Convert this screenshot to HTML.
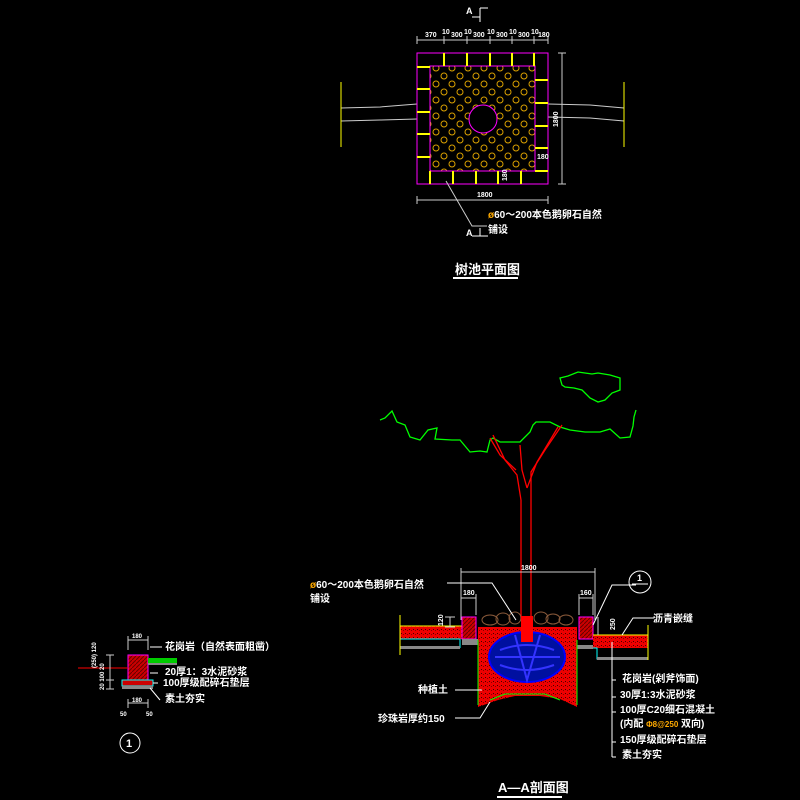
<!DOCTYPE html>
<html><head><meta charset="utf-8"><style>
html,body{margin:0;padding:0;background:#000;}
svg{display:block}
text{font-family:"Liberation Sans","Noto Sans CJK SC",sans-serif;fill:#fff;font-weight:bold}
</style></head><body>
<svg width="800" height="800" viewBox="0 0 800 800" xmlns="http://www.w3.org/2000/svg">
<defs>
<pattern id="cob" width="16" height="16" patternUnits="userSpaceOnUse">
<circle cx="4" cy="4" r="3" fill="none" stroke="#d9a000" stroke-width="1"/>
<circle cx="12" cy="12" r="3" fill="none" stroke="#d9a000" stroke-width="1"/>
</pattern>
<pattern id="rd" width="4" height="4" patternUnits="userSpaceOnUse">
<rect width="4" height="4" fill="#e00"/><rect x="1" y="1" width="1" height="1" fill="#400"/><rect x="3" y="2" width="1" height="1" fill="#800"/>
</pattern>
<pattern id="hx" width="4" height="4" patternUnits="userSpaceOnUse">
<rect width="4" height="4" fill="#c00"/><path d="M0 4L4 0" stroke="#600" stroke-width="1"/>
</pattern>
</defs>

<!-- ===== PLAN ===== -->
<g stroke-width="1" fill="none">
<path d="M480 8V22M480 8H488M472 17H480" stroke="#fff"/>
<text x="466" y="14" font-size="9">A</text>
<path d="M472 236H488M480 228V236" stroke="#fff"/>
<text x="466" y="236" font-size="9">A</text>
<!-- roads -->
<path d="M341 108L380 107L417 104M341 121L380 120L417 119" stroke="#ccc"/>
<path d="M548 104L590 105L624 108M548 117L590 118L624 121" stroke="#ccc"/>
<path d="M341 82V147M624 82V147" stroke="#ff0"/>
<rect x="417" y="53" width="131" height="131" stroke="#f0f"/>
<rect x="430" y="66" width="105" height="105" fill="url(#cob)" stroke="#f0f"/>
<circle cx="483" cy="119" r="14" fill="#000" stroke="#f0f"/>
<g stroke="#ff0" stroke-width="2">
<path d="M444 53V66M467 53V66M490 53V66M512 53V66M534 53V66"/>
<path d="M417 67H430M417 89H430M417 112H430M417 134H430M417 157H430"/>
<path d="M535 80H548M535 103H548M535 126H548M535 148H548M535 171H548"/>
<path d="M430 171V184M453 171V184M476 171V184M498 171V184M521 171V184"/>
</g>
<path d="M417 40H548M417 36V44M444 36V44M467 36V44M490 36V44M512 36V44M534 36V44M548 36V44" stroke="#ccc"/>
<path d="M562 53V184M558 53H566M558 184H566" stroke="#ccc"/>
<path d="M417 200H548M417 196V204M548 196V204" stroke="#ccc"/>
<path d="M446 181L472 226H487" stroke="#ccc"/>
</g>
<g font-size="7" font-weight="normal">
<text x="425" y="37">370</text><text x="442" y="34">10</text><text x="451" y="37">300</text><text x="464" y="34">10</text><text x="473" y="37">300</text><text x="487" y="34">10</text><text x="496" y="37">300</text><text x="509" y="34">10</text><text x="518" y="37">300</text><text x="531" y="34">10</text><text x="538" y="37">180</text>
<text x="477" y="197">1800</text>
<text x="537" y="159">180</text>
<text x="0" y="0" transform="translate(558 127) rotate(-90)">1800</text>
<text x="0" y="0" transform="translate(507 181) rotate(-90)">180</text>
</g>
<text x="488" y="218" font-size="10"><tspan fill="#fa0">ø</tspan>60～200本色鹅卵石自然</text>
<text x="488" y="233" font-size="10">铺设</text>
<text x="455" y="274" font-size="13">树池平面图</text>
<path d="M453 278H518" stroke="#fff" stroke-width="2"/>

<!-- ===== TREE ===== -->
<g fill="none" stroke="#0f0" stroke-width="1.3">
<path d="M380 420L385 418L392 411L397 422L405 425L410 437L420 440L428 430L437 428L435 439L452 440L460 440L470 452L480 451L487 452L490 440L493 438L500 442L520 442L530 432L533 425L536 422L550 422L560 427L570 430L585 432L600 432L610 429L620 438L630 437L633 426L634 417L636 410"/>
<path d="M560 378L568 376L578 372L592 374L598 373L610 375L620 378L620 390L612 393L605 400L598 402L590 398L582 390L574 388L565 387L562 385Z"/>
</g>
<g fill="none" stroke="#f00" stroke-width="1.3">
<path d="M521 620V500L517 475L505 460L493 435"/>
<path d="M531 620V472L545 450L562 425"/>
<path d="M527 488L522 470L520 445M527 488L537 462L558 427"/>
<path d="M516 470L500 455L490 438"/>
</g>

<!-- ===== SECTION ===== -->
<g>
<!-- left pavement -->
<rect x="400" y="626" width="62" height="13" fill="url(#rd)"/>
<path d="M400 626H462" stroke="#ff0"/>
<path d="M400 639H460V648" stroke="#0ff" fill="none"/>
<rect x="400" y="646" width="60" height="3" fill="#888"/>
<path d="M400 615V655" stroke="#ff0"/>
<!-- curbs -->
<rect x="462" y="617" width="14" height="22" fill="url(#hx)" stroke="#f0f"/>
<rect x="579" y="617" width="14" height="22" fill="url(#hx)" stroke="#f0f"/>
<rect x="462" y="639" width="16" height="6" fill="#888"/>
<rect x="577" y="645" width="16" height="4" fill="#888"/>
<!-- pit -->
<path d="M478 627H577V707L560 699L540 696H515L498 700L478 707Z" fill="url(#rd)"/>
<path d="M478 640V705M577 640V705" stroke="#0f0"/>
<path d="M490 700L505 694H545L560 700" stroke="#0f0" fill="none"/>
<!-- stones -->
<g fill="none" stroke="#8a5a3a">
<ellipse cx="490" cy="620" rx="8" ry="5"/><ellipse cx="503" cy="619" rx="7" ry="6"/><ellipse cx="515" cy="618" rx="6" ry="6"/>
<ellipse cx="541" cy="618" rx="7" ry="6"/><ellipse cx="553" cy="619" rx="7" ry="5"/><ellipse cx="566" cy="620" rx="7" ry="5"/>
</g>
<!-- rootball -->
<ellipse cx="527" cy="657" rx="38" ry="25" fill="#0010a0" stroke="#00f" stroke-width="2"/>
<path d="M500 650Q527 640 554 650M500 665Q527 675 554 665M515 635L527 680L540 635M495 657H560" stroke="#33f" fill="none" stroke-width="2"/>
<rect x="521" y="616" width="12" height="26" fill="#f00"/>
<!-- right pavement -->
<rect x="593" y="635" width="55" height="13" fill="url(#rd)"/>
<path d="M593 648H597V659H648" stroke="#0ff" fill="none"/>
<rect x="597" y="657" width="51" height="3" fill="#888"/>
<path d="M648 625V660" stroke="#ff0"/>
<path d="M593 635H648" stroke="#ff0"/>
<!-- dims -->
<path d="M461 572H595M461 568V620M595 568V620M461 598H476M461 594V615M476 594V615M579 598H593M579 594V615M593 594V615M450 617V627M445 617H455M445 627H455M598 617V635" stroke="#ccc" fill="none"/>
<text x="521" y="570" font-size="7" font-weight="normal">1800</text>
<text x="463" y="595" font-size="7" font-weight="normal">180</text>
<text x="580" y="595" font-size="7" font-weight="normal">160</text>
<text transform="translate(443 626) rotate(-90)" font-size="7" font-weight="normal">120</text>
<text transform="translate(615 630) rotate(-90)" font-size="7" font-weight="normal">250</text>
<!-- leaders -->
<path d="M447 583H492L516 620M636 585H612L593 625M654 618H633L622 635M612 642V757M612 680H616M612 697H616M612 712H616M612 742H616M612 757H616M455 690H482M455 718H480L490 702" stroke="#fff" fill="none"/>
<circle cx="640" cy="582" r="11" fill="none" stroke="#fff"/>
<path d="M632 584H648" stroke="#fff"/>
<text x="637" y="581" font-size="9">1</text>
</g>
<g font-size="10">
<text x="310" y="588"><tspan fill="#fa0">ø</tspan>60～200本色鹅卵石自然</text>
<text x="310" y="602">铺设</text>
<text x="653" y="622">沥青嵌缝</text>
<text x="418" y="693">种植土</text>
<text x="378" y="722">珍珠岩厚约150</text>
<text x="622" y="682">花岗岩(剁斧饰面)</text>
<text x="620" y="698">30厚1:3水泥砂浆</text>
<text x="620" y="713">100厚C20细石混凝土</text>
<text x="620" y="727">(内配 <tspan fill="#fa0" font-size="8">Φ8@250</tspan>   双向)</text>
<text x="620" y="743">150厚级配碎石垫层</text>
<text x="622" y="758">素土夯实</text>
</g>
<text x="498" y="792" font-size="13">A—A剖面图</text>
<path d="M497 797H562" stroke="#fff" stroke-width="2"/>

<!-- ===== DETAIL 1 ===== -->
<g>
<rect x="128" y="655" width="20" height="25" fill="url(#hx)" stroke="#f0f"/>
<rect x="148" y="658" width="29" height="5" fill="#0c0"/>
<rect x="148" y="663" width="29" height="2" fill="#888"/>
<path d="M78 668H128" stroke="#f00"/>
<rect x="122" y="680" width="31" height="6" fill="#c00" stroke="#0ff"/>
<rect x="122" y="686" width="31" height="3" fill="#888"/>
<path d="M128 640H148M128 636V650M148 636V650M128 703H148M128 699V708M148 699V708M110 655V689M106 655H114M106 680H114M106 689H114" stroke="#ccc" fill="none"/>
<path d="M162 647H150M158 673H150M158 683H153M160 700L150 688" stroke="#fff"/>
<g font-size="6" font-weight="normal">
<text x="132" y="638">180</text><text x="132" y="702">180</text><text x="120" y="716">50</text><text x="146" y="716">50</text>
<text transform="translate(96 668) rotate(-90)">(250) 120</text>
<text transform="translate(104 690) rotate(-90)">20 100 20</text>
</g>
<g font-size="10">
<text x="165" y="650">花岗岩（自然表面粗凿）</text>
<text x="165" y="675">20厚1：3水泥砂浆</text>
<text x="163" y="686">100厚级配碎石垫层</text>
<text x="165" y="702">素土夯实</text>
</g>
<circle cx="130" cy="743" r="10" fill="none" stroke="#fff"/>
<text x="126" y="747" font-size="11">1</text>
</g>
</svg>
</body></html>
